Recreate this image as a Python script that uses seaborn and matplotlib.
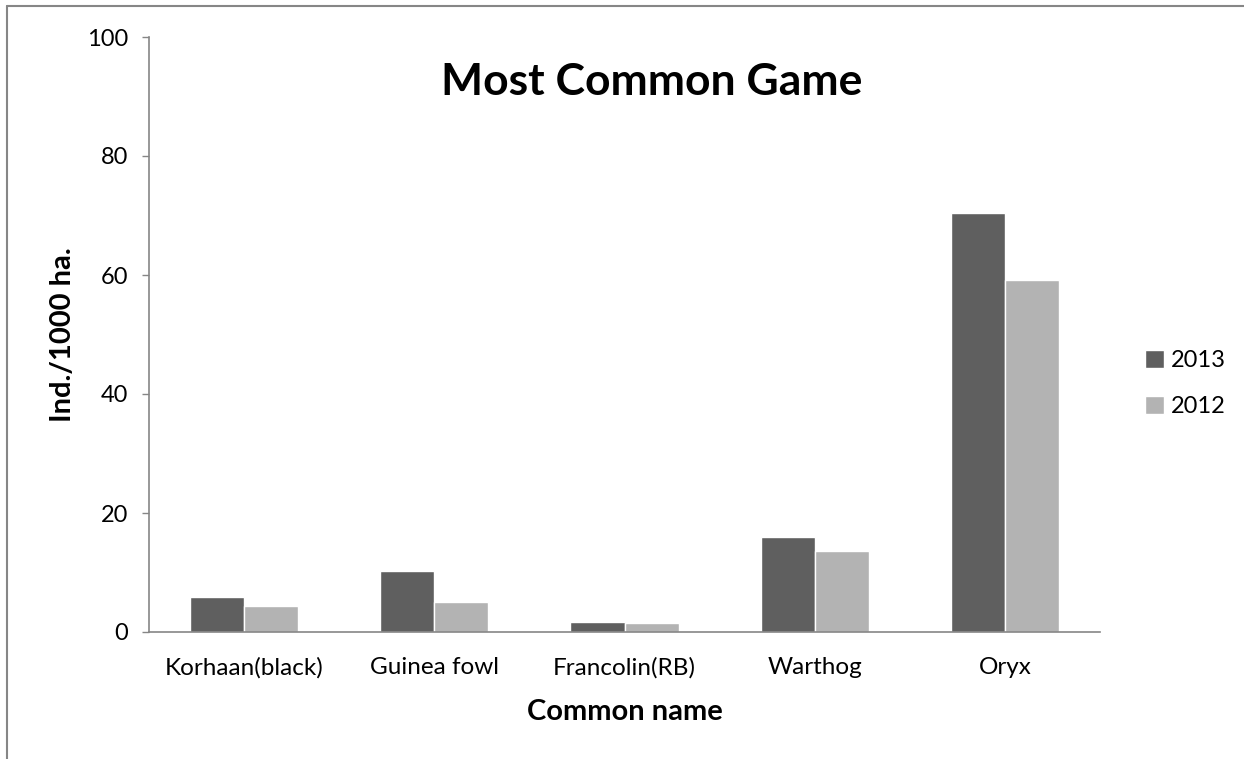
import pandas as pd
import numpy as np
import matplotlib
matplotlib.use("Agg")
import matplotlib.pyplot as plt
import seaborn as sns

# Data (Ind./1000 ha.)
species = ['Korhaan(black)', 'Guinea fowl', 'Francolin(RB)', 'Warthog', 'Oryx']
years = ['2013', '2012']
values_2013 = [5.8, 10.3, 1.7, 16.0, 70.4]
values_2012 = [4.4, 5.0, 1.5, 13.6, 59.2]

colors = {'2013': '#5F5F5F', '2012': '#B3B3B3'}
axis_grey = '#868686'

sns.set_theme(style="white")
plt.rcParams['font.family'] = ['Lato', 'DejaVu Sans']
plt.rcParams['text.color'] = 'black'
plt.rcParams['axes.labelcolor'] = 'black'
plt.rcParams['xtick.color'] = 'black'
plt.rcParams['ytick.color'] = 'black'

df = pd.DataFrame({
    'Common name': species * 2,
    'Year': ['2013'] * len(species) + ['2012'] * len(species),
    'Value': values_2013 + values_2012,
})

fig = plt.figure(figsize=(12.44, 7.59), dpi=100)
ax = fig.add_axes([149 / 1244, 1 - 632 / 759, (1100 - 149) / 1244, (632 - 37) / 759])

sns.barplot(data=df, x='Common name', y='Value', hue='Year', hue_order=years,
            palette=colors, width=0.568, saturation=1, ax=ax, legend=True)

ax.set_ylim(0, 100)
ax.set_xlim(-0.5, len(species) - 0.5)
ax.set_yticks(np.arange(0, 101, 20))
ax.tick_params(axis='y', length=5, width=1, color=axis_grey, labelcolor='black',
               labelsize=17, pad=10, left=True)
ax.tick_params(axis='x', length=0, labelsize=17.5, pad=18, labelcolor='black')

for side in ['top', 'right']:
    ax.spines[side].set_visible(False)
for side in ['left', 'bottom']:
    ax.spines[side].set_color(axis_grey)
    ax.spines[side].set_linewidth(1.2)

ax.set_xlabel('Common name', fontsize=21, fontweight='bold', labelpad=15, color='black')
ax.set_ylabel('Ind./1000 ha.', fontsize=21, fontweight='bold', color='black')
ax.yaxis.set_label_coords(-0.077, 0.5)

fig.text(652 / 1244, 1 - 82 / 759, 'Most Common Game', fontsize=32, fontweight='bold',
         ha='center', va='center', color='black')

leg = ax.legend(loc='center left', bbox_to_anchor=(1.025, 0.418), frameon=False,
                fontsize=17, handlelength=0.8, handleheight=0.8, handletextpad=0.3,
                labelspacing=1.05)

# outer chart border (left and top visible)
fig.add_artist(plt.Line2D([7 / 1244, 7 / 1244], [0, 1 - 6 / 759], color=axis_grey, lw=1.5,
                          transform=fig.transFigure))
fig.add_artist(plt.Line2D([7 / 1244, 1], [1 - 6 / 759, 1 - 6 / 759], color=axis_grey, lw=1.5,
                          transform=fig.transFigure))

fig.savefig('out.png', dpi=100)
